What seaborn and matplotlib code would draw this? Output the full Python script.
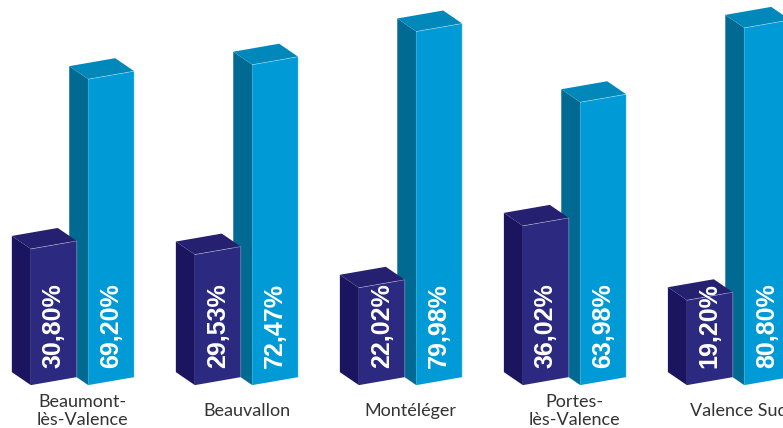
import numpy as np
import pandas as pd
import matplotlib
matplotlib.use('Agg')
import matplotlib.pyplot as plt
import seaborn as sns
from matplotlib.patches import Polygon

communes = ['Beaumont-\nlès-Valence', 'Beauvallon', 'Montéléger', 'Portes-\nlès-Valence', 'Valence Sud']
series = ['part_1', 'part_2']
part_1 = [30.80, 29.53, 22.02, 36.02, 19.20]
part_2 = [69.20, 72.47, 79.98, 63.98, 80.80]

# front / side / top colours of each series
front = {'part_1': '#2b2a80', 'part_2': '#009bd6'}
side = {'part_1': '#1a155e', 'part_2': '#006a92'}
top = {'part_1': '#252070', 'part_2': '#0088ba'}

df = pd.DataFrame({
    'commune': communes * 2,
    'serie': [series[0]] * len(communes) + [series[1]] * len(communes),
    'valeur': part_1 + part_2,
})

sns.set_style('white')
fig = plt.figure(figsize=(7.83, 4.28), dpi=100)
ax = fig.add_axes([0, 0, 1, 1])
sns.barplot(data=df, x='commune', y='valeur', hue='serie', palette=front,
            width=0.7, gap=0.2, saturation=1, legend=False, ax=ax)
ax.set_xlim(-0.503, 4.271)
ax.set_ylim(-10.6, 86.2)
ax.axis('off')

fig.canvas.draw()
inv = ax.transData.inverted()
dx, dy = -19, 13          # depth of the boxes, in pixels
k = 8 / 46                # slight tilt of the front face

bars = list(ax.patches)
for i, p in enumerate(bars):
    s = series[i // len(communes)]
    (x0, y0), (x1, y1) = ax.transData.transform([(p.get_x(), 0), (p.get_x() + p.get_width(), p.get_height())])
    h = k * (x1 - x0) / 2
    fr = [(x0, y0 - h), (x1, y0 + h), (x1, y1 + h), (x0, y1 - h)]
    sd = [(x0, y0 - h), (x0, y1 - h), (x0 + dx, y1 - h + dy), (x0 + dx, y0 - h + dy)]
    tp = [(x0, y1 - h), (x1, y1 + h), (x1 + dx, y1 + h + dy), (x0 + dx, y1 - h + dy)]
    z = 3 if s == 'part_1' else 2
    for pts, c in [(sd, side[s]), (tp, top[s]), (fr, front[s])]:
        ax.add_patch(Polygon(inv.transform(pts), closed=True, facecolor=c,
                             edgecolor='none', zorder=z))
    edge = inv.transform([(x0, y1 - h), (x1, y1 + h), (x1, y0 + h)])
    ax.plot(edge[:, 0], edge[:, 1], color='white', lw=0.5, alpha=0.45, zorder=z)
    p.set_visible(False)
    ax.text(p.get_x() + p.get_width() / 2, 3.0, f"{p.get_height():.2f}%".replace('.', ','),
            rotation=90, ha='center', va='bottom', color='white', fontsize=18,
            fontweight='bold', family='Liberation Sans', zorder=5)

for i, c in enumerate(communes):
    ax.text(i, -6.75, c, ha='center', va='center', multialignment='center',
            fontsize=13, family='Lato', color='#333333', linespacing=1.1)

fig.savefig('out.png', dpi=100)
